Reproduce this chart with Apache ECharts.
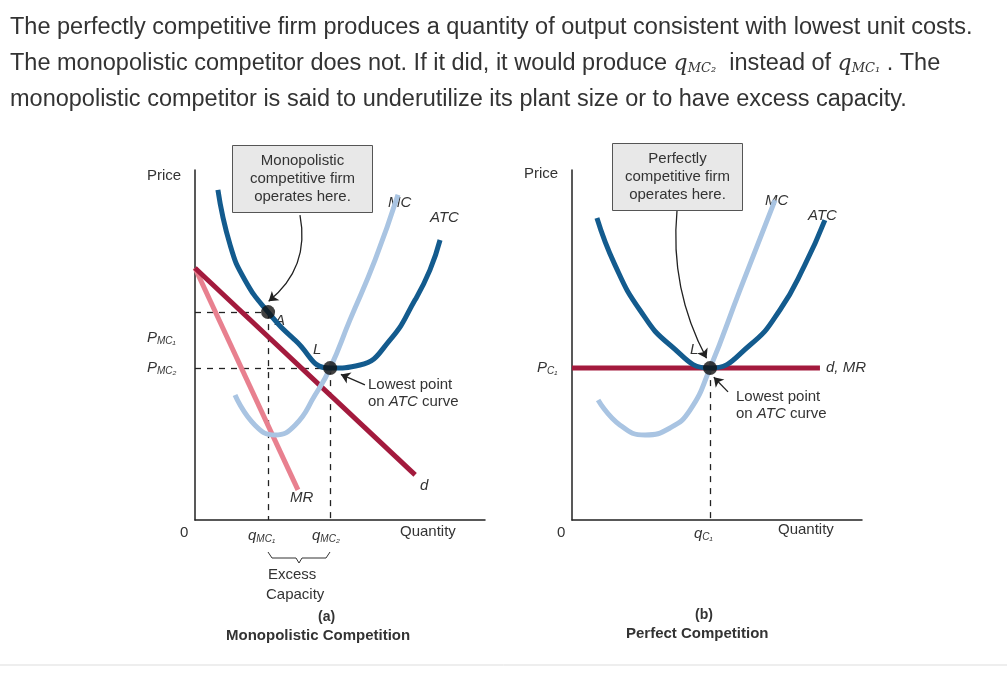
<!DOCTYPE html>
<html><head><meta charset="utf-8">
<script src="https://cdn.jsdelivr.net/npm/echarts@6/dist/echarts.min.js"></script>
<style>html,body{margin:0;background:#fff}#c{width:1007px;height:682px}</style>
</head><body><div id="c"></div>
<script>
// panel (a) monopolistic competition, units 0..100
var atcA = [[7.9,94.3],[12.1,78.6],[17.2,68.6],[25.2,59.4],[34.5,51.4],[46.6,43.4],[56.9,44.3],[67.2,51.4],[75.9,62.9],[81.0,71.4],[84.5,80.0]];
var mcA = [[13.8,35.7],[20.7,27.1],[27.6,24.3],[34.5,27.1],[41.4,35.7],[46.6,43.4],[53.4,57.1],[62.1,74.3],[70.0,92.9]];
var demandA = [[0,72.0],[75.9,12.9]];
var mrA = [[0,72.0],[35.5,8.6]];
var pointA = [25.2,59.4];
var pointL = [46.6,43.4];
// panel (b) perfect competition
var atcB = [[8.6,86.3],[14.8,72.9],[23.4,60],[33.8,50],[47.6,43.4],[61.4,50],[71.7,60],[80.3,72.9],[87.2,85.7]];
var mcB = [[9.0,34.3],[16.6,27.1],[25.2,24.3],[33.8,26.3],[40.7,31.4],[47.6,43.4],[57.9,65.7],[70,91.4]];
var demandB = [[0,43.4],[85.5,43.4]];
var pointB = [47.6,43.4];

var cAtc = '#135b8e', cMc = '#a9c4e2', cD = '#a31a3d', cMr = '#e8808f';
var font = 'Liberation Sans, Arial, sans-serif';

function axes(i) {
  return {
    x: { type: 'value', gridIndex: i, min: 0, max: 100, axisLine: { lineStyle: { color: '#222', width: 1.5 } }, axisTick: { show: false }, axisLabel: { show: false }, splitLine: { show: false } },
    y: { type: 'value', gridIndex: i, min: 0, max: 100, axisLine: { show: true, lineStyle: { color: '#222', width: 1.5 } }, axisTick: { show: false }, axisLabel: { show: false }, splitLine: { show: false } }
  };
}
var a0 = axes(0), a1 = axes(1);

function curve(data, color, i, smooth, w) {
  return { type: 'line', xAxisIndex: i, yAxisIndex: i, data: data, smooth: smooth, showSymbol: false, silent: true,
    lineStyle: { color: color, width: w || 5 }, z: 3 };
}
function dashes(pt, i, toAxisY) {
  var d = [{ coords: [[pt[0], pt[1]], [pt[0], 0]] }];
  if (toAxisY) d.push({ coords: [[0, pt[1]], [pt[0], pt[1]]] });
  return { type: 'lines', coordinateSystem: 'cartesian2d', xAxisIndex: i, yAxisIndex: i, data: d,
    lineStyle: { color: '#222', width: 1.3, type: [6, 6], opacity: 1 }, z: 2 };
}
function arrow(from, to, i, curv) {
  return { type: 'lines', coordinateSystem: 'cartesian2d', xAxisIndex: i, yAxisIndex: i,
    data: [{ coords: [from, to] }], symbol: ['none', 'arrow'], symbolSize: 9,
    lineStyle: { color: '#222', width: 1.3, curveness: curv, opacity: 1 }, z: 6 };
}
function dot(pt, i) {
  return { type: 'scatter', xAxisIndex: i, yAxisIndex: i, data: [pt], symbolSize: 14, itemStyle: { color: '#111' }, z: 7 };
}
function txt(x, y, s, opt) {
  return { type: 'text', left: x, top: y, style: Object.assign({ text: s, font: '15px ' + font, fill: '#333', rich: {
    i: { fontStyle: 'italic', fontSize: 15, fontFamily: font, fill: '#333' },
    s: { fontStyle: 'italic', fontSize: 10, fontFamily: font, verticalAlign: 'bottom', padding: [8, 0, 0, 0], fill: '#333' }
  } }, opt || {}) };
}
function box(x, y, w, h, s) {
  return { type: 'group', left: x, top: y, children: [
    { type: 'rect', shape: { width: w, height: h }, style: { fill: '#e8e8e8', stroke: '#555', lineWidth: 1 } },
    { type: 'text', x: w / 2, y: 6, style: { text: s, font: '15px ' + font, fill: '#333', align: 'center', lineHeight: 18 } }
  ] };
}

var head = {
  type: 'text', left: 10, top: 10, style: {
    text: 'The perfectly competitive firm produces a quantity of output consistent with lowest unit costs.\n' +
      'The monopolistic competitor does not. If it did, it would produce {q|q}{s|MC₂}  instead of {q|q}{s|MC₁} . The\n' +
      'monopolistic competitor is said to underutilize its plant size or to have excess capacity.',
    font: '23.5px ' + font, fill: '#333', lineHeight: 36,
    rich: {
      q: { fontStyle: 'italic', fontFamily: 'DejaVu Serif, serif', fontSize: 22, fill: '#333' },
      s: { fontStyle: 'italic', fontFamily: 'DejaVu Serif, serif', fontSize: 13, fill: '#333', padding: [10, 0, 0, 0] }
    }
  }
};

var chart = echarts.init(document.getElementById('c'));
chart.setOption({
  animation: false,
  grid: [
    { left: 195, top: 170, width: 290, height: 350 },
    { left: 572, top: 170, width: 290, height: 350 }
  ],
  xAxis: [a0.x, a1.x],
  yAxis: [a0.y, a1.y],
  series: [
    dashes(pointA, 0, true), dashes(pointL, 0, true), dashes(pointB, 1, false),
    curve(mrA, cMr, 0, false), curve(demandA, cD, 0, false),
    curve(mcA, cMc, 0, true), curve(atcA, cAtc, 0, true),
    dot(pointA, 0), dot(pointL, 0),
    arrow([36.2, 87.1], [25.4, 62.5], 0, 0.3),
    arrow([58.6, 38.6], [50.3, 41.6], 0, 0),
    curve(demandB, cD, 1, false), curve(mcB, cMc, 1, true), curve(atcB, cAtc, 1, true),
    dot(pointB, 1),
    arrow([36.2, 88.3], [46.4, 46.2], 1, -0.15),
    arrow([53.8, 36.6], [48.9, 40.8], 1, 0)
  ],
  graphic: [
    head,
    { type: 'line', shape: { x1: 0, y1: 665, x2: 1007, y2: 665 }, style: { stroke: '#ddd', lineWidth: 1 } },
    box(232, 145, 140, 67, 'Monopolistic\ncompetitive firm\noperates here.'),
    box(612, 143, 130, 67, 'Perfectly\ncompetitive firm\noperates here.'),
    txt(147, 168, 'Price'), txt(524, 166, 'Price'),
    txt(180, 525, '0'), txt(557, 525, '0'),
    txt(147, 330, '{i|P}{s|MC₁}'), txt(147, 360, '{i|P}{s|MC₂}'),
    txt(537, 360, '{i|P}{s|C₁}'),
    txt(275, 313, '{i|A}'), txt(313, 342, '{i|L}'), txt(690, 342, '{i|L}'),
    txt(388, 195, '{i|MC}'), txt(430, 210, '{i|ATC}'),
    txt(765, 193, '{i|MC}'), txt(808, 208, '{i|ATC}'),
    txt(420, 478, '{i|d}'), txt(290, 490, '{i|MR}'),
    txt(826, 360, '{i|d, MR}'),
    txt(368, 376, 'Lowest point\non {i|ATC} curve', { lineHeight: 17 }),
    txt(736, 388, 'Lowest point\non {i|ATC} curve', { lineHeight: 17 }),
    txt(400, 524, 'Quantity'), txt(778, 522, 'Quantity'),
    txt(248, 528, '{i|q}{s|MC₁}'), txt(312, 528, '{i|q}{s|MC₂}'), txt(694, 526, '{i|q}{s|C₁}'),
    { type: 'polyline', shape: { points: [[268, 552], [272, 558], [296, 558], [299, 563], [302, 558], [326, 558], [330, 552]] }, style: { stroke: '#333', fill: null, lineWidth: 1 } },
    txt(268, 565, 'Excess', { lineHeight: 20 }),
    txt(266, 585, 'Capacity', { lineHeight: 20 }),
    txt(318, 610, '(a)', { font: 'bold 14px ' + font }),
    txt(226, 628, 'Monopolistic Competition', { font: 'bold 15px ' + font }),
    txt(695, 608, '(b)', { font: 'bold 14px ' + font }),
    txt(626, 626, 'Perfect Competition', { font: 'bold 15px ' + font })
  ]
});
</script></body></html>
